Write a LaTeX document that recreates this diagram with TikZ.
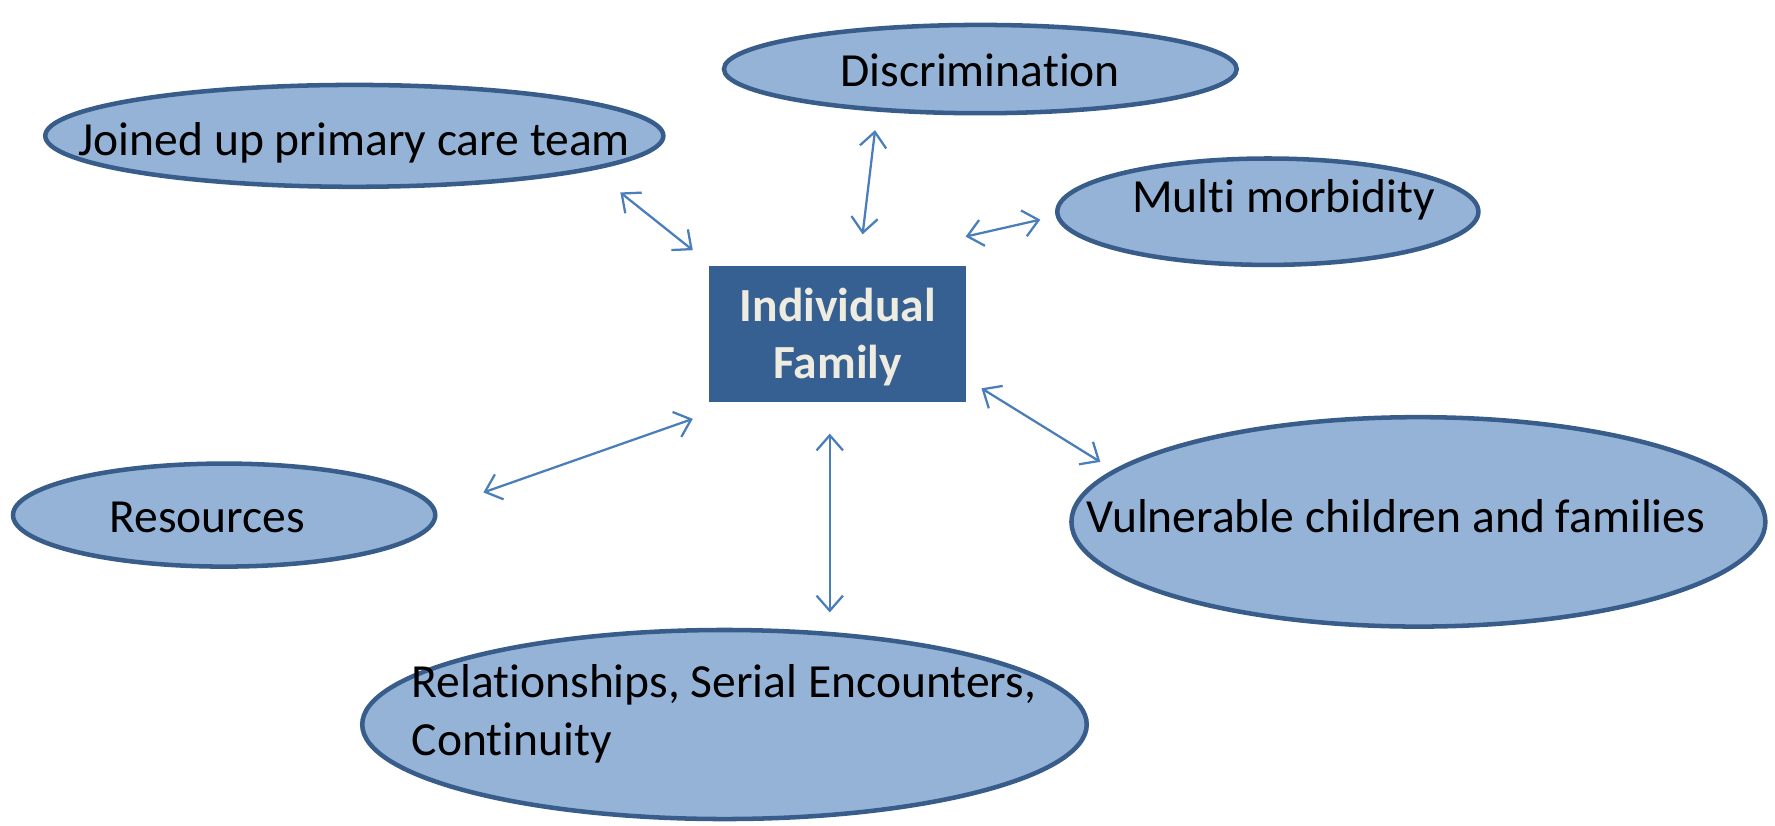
\documentclass[tikz,border=0pt]{standalone}
\usepackage{fontspec}
\setmainfont[Ligatures=NoCommon]{Carlito}
\usetikzlibrary{shapes.geometric,arrows.meta}
\definecolor{ellfill}{HTML}{95B3D7}
\definecolor{elldraw}{HTML}{385D8A}
\definecolor{boxfill}{HTML}{376092}
\definecolor{boxtext}{HTML}{EEECE1}
\definecolor{arrowc}{HTML}{4A7EBB}
\def\upx{0.3pt}
\tikzset{
  bubble/.style={ellipse, draw=elldraw, fill=ellfill, line width=1.2pt, inner sep=0pt},
  lbl/.style={anchor=base, inner sep=0pt, font=\fontsize{12.6pt}{15.5pt}\selectfont},
  centrebox/.style={rectangle, fill=boxfill, inner sep=0pt},
  boxlbl/.style={anchor=base, inner sep=0pt, text=boxtext, font=\fontsize{12.6pt}{15.5pt}\selectfont\bfseries},
  link/.style={draw=arrowc, line width=0.6pt,
    {Straight Barb[length=4pt,width=7pt]}-{Straight Barb[length=4pt,width=7pt]}}
}
\begin{document}
\begin{tikzpicture}[x=0.3pt, y=-0.3pt]
\useasboundingbox (0,0) rectangle (1568,729);
% ellipses
\node[bubble, minimum width={453*\upx}, minimum height={78*\upx}] (disc) at (866,61) {};
\node[bubble, minimum width={546*\upx}, minimum height={90*\upx}] (joined) at (313,120) {};
\node[bubble, minimum width={372*\upx}, minimum height={94*\upx}] (multi) at (1120,187) {};
\node[bubble, minimum width={373*\upx}, minimum height={91*\upx}] (res) at (198,455) {};
\node[bubble, minimum width={613*\upx}, minimum height={185*\upx}] (vuln) at (1253,461) {};
\node[bubble, minimum width={640*\upx}, minimum height={167*\upx}] (rel) at (640,640) {};
% centre box
\node[centrebox, minimum width={227*\upx}, minimum height={120*\upx}] (ind) at (739.5,295) {};
% labels
\node[lbl] (tdisc) at (866,76) {Discrimination};
\node[lbl] (tjoined) at (313,137) {Joined up primary care team};
\node[lbl] (tmulti) at (1134,188) {Multi morbidity};
\node[lbl] (tres) at (183,470) {Resources};
\node[lbl] (tvuln) at (1233,470) {Vulnerable children and families};
\node[lbl, anchor=base west] (trel1) at (363,616) {Relationships, Serial Encounters,};
\node[lbl, anchor=base west] (trel2) at (363,667) {Continuity};
\node[boxlbl] (tind1) at (740,284) {Individual};
\node[boxlbl] (tind2) at (740,334) {Family};
% connector ends
\coordinate (aJ1) at (548,170); \coordinate (aJ2) at (612,221);
\coordinate (aD1) at (773,115); \coordinate (aD2) at (762,207);
\coordinate (aM1) at (853,209); \coordinate (aM2) at (919,194);
\coordinate (aR1) at (427,435); \coordinate (aR2) at (612,370);
\coordinate (aL1) at (733,383); \coordinate (aL2) at (733,541);
\coordinate (aV1) at (867,343); \coordinate (aV2) at (972,408);
\draw[link] (aJ1) -- (aJ2);
\draw[link] (aD1) -- (aD2);
\draw[link] (aM1) -- (aM2);
\draw[link] (aR1) -- (aR2);
\draw[link] (aL1) -- (aL2);
\draw[link] (aV1) -- (aV2);
\end{tikzpicture}
\end{document}
